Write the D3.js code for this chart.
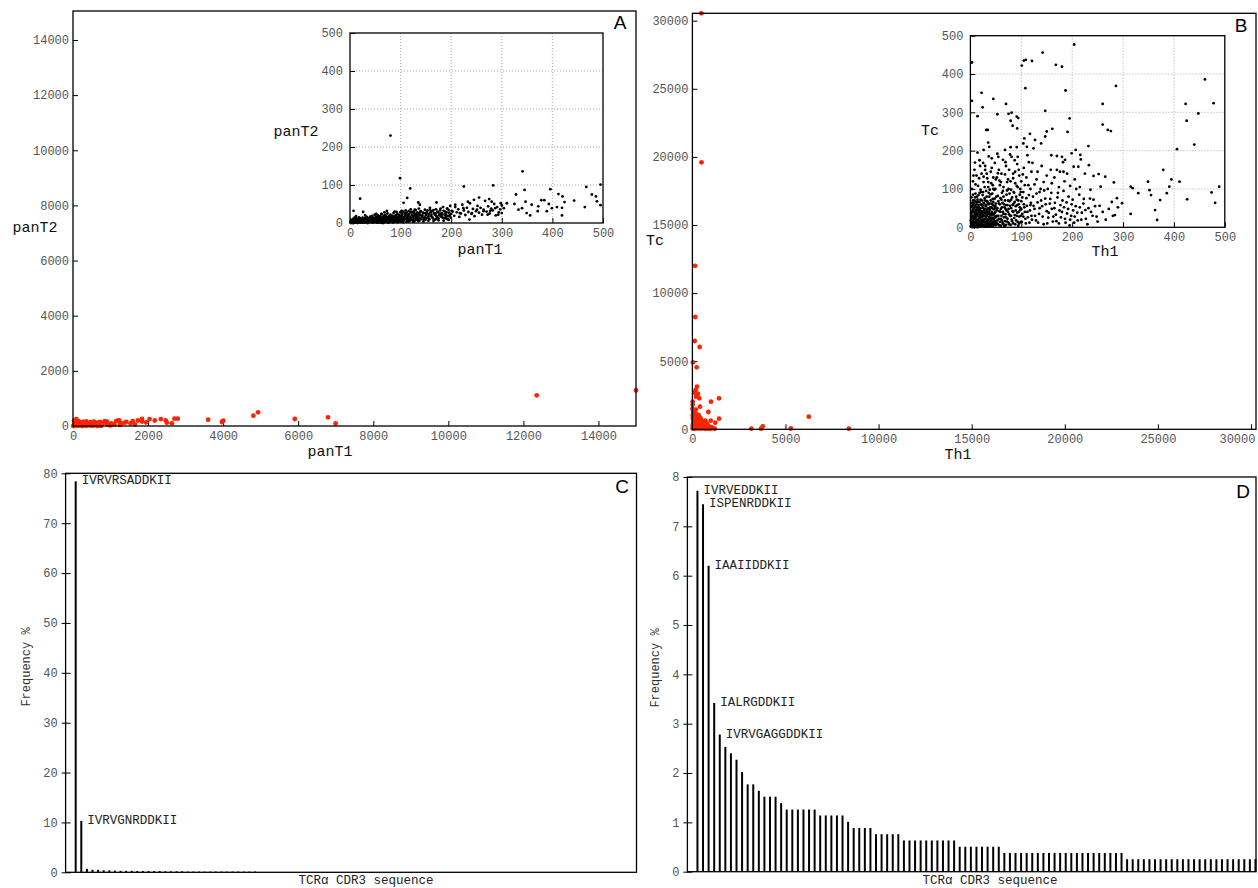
<!DOCTYPE html>
<html><head><meta charset="utf-8">
<script src="https://cdn.jsdelivr.net/npm/d3@7"></script>
<style>
body{margin:0;background:#fff;}
text{font-family:"Liberation Mono","DejaVu Sans Mono",monospace;}
</style></head><body>
<svg id="c" width="1258" height="888"></svg>
<script>
// ---------------- DATA ----------------
// Panel A main (panT1 vs panT2), red points
const aMainPts = [[12355,1112],[15000,1290],[4930,496],[4805,374],[5910,254],[6795,315],[6997,90],[4005,192],[3968,145],[3600,230],
[2792,266],[2703,266],[2635,97],[2500,120],[2470,200],[2340,250],[2180,200],[2040,250],[1840,260],[1840,160],[1730,200],[1590,180],
[1530,97],[1420,150],[1300,97],[1230,200],[1150,180],[1190,192],[1020,97],[910,145],[870,170],
[20,10],[40,60],[60,150],[80,220],[100,30],[120,90],[150,180],[170,20],[200,120],[230,60],[260,150],[290,30],[320,90],[350,170],
[380,40],[410,110],[440,60],[470,140],[500,20],[530,90],[560,160],[600,50],[640,120],[680,80],[720,150],[760,30],[800,110],
[850,180],[900,70],[950,40],[1000,20],[30,200],[90,250],[10,0],[50,5],[150,10],[250,0],[350,5],[450,15],[550,10],[650,0],[750,8],
[1100,60],[1250,40],[1380,120],[1650,60],[1950,130]];
// Panel A inset (0-500), black points
const aInsetPts = [[80,230],[99,118],[119,91],[20,64],[225,96],[283,99],[341,136],[345,87],[396,89],[467,95],[495,101],[478,75],[486,70],
[488,57],[495,47],[464,42],[443,59],[420,70],[412,76],[424,55],[419,40],[419,20],[409,42],[393,50],[384,60],[378,60],[372,44],[371,31],
[389,31],[399,39],[359,48],[356,20],[349,26],[347,56],[340,39],[333,35],[328,75],[325,50],[310,52],[304,39],[298,52],[300,26],[293,22],
[287,39],[280,56],[275,63],[277,32],[272,22],[264,31],[255,67],[245,61],[251,35],[241,26],[233,56],[236,9],[224,39],[217,26],[208,48],
[201,32],[192,38],[188,22],[181,26],[171,54],[168,22],[158,35],[148,26],[135,54],[138,48],[128,35],[122,29],[113,66],[106,53],[102,32],
[92,29],[73,32],[63,23],[26,29],[7,32],
[1,2],[2,5],[3,1],[4,8],[5,3],[6,11],[7,0],[8,6],[9,14],[10,2],[11,9],[12,4],[13,12],[14,7],[15,1],[16,10],[17,5],[18,15],[19,3],[20,8],
[21,12],[22,2],[23,6],[24,10],[25,14],[26,4],[27,9],[28,1],[29,13],[30,7],[31,11],[32,3],[33,16],[34,6],[35,9],[36,2],[37,13],[38,5],
[39,10],[40,17],[41,4],[42,12],[43,8],[44,19],[45,1],[46,14],[47,6],[48,10],[49,22],[50,3],[51,16],[52,9],[53,12],[54,5],[55,20],[56,8],
[57,14],[58,2],[59,18],[60,11],[61,6],[62,24],[63,9],[64,15],[65,3],[66,12],[67,19],[68,7],[69,13],[70,21],[71,4],[72,16],[73,10],
[74,25],[75,6],[76,14],[77,18],[78,2],[79,11],[80,22],[81,8],[82,15],[83,5],[84,19],[85,12],[86,26],[87,9],[88,16],[89,3],[90,20],
[91,13],[92,7],[93,24],[94,10],[95,17],[96,4],[97,21],[98,14],[99,28],[100,8],[101,18],[102,12],[103,25],[104,5],[105,30],[106,15],
[107,9],[108,22],[109,19],[110,33],[111,11],[112,27],[113,6],[114,20],[115,14],[116,31],[117,24],[118,9],[119,17],[120,36],[121,13],
[122,28],[123,21],[124,7],[125,16],[126,30],[127,25],[128,11],[129,19],[130,34],[131,14],[132,23],[133,28],[134,8],[135,18],[136,38],
[137,26],[138,12],[139,21],[140,31],[142,16],[144,27],[146,10],[148,35],[150,20],[152,29],[154,14],[156,24],[158,40],[160,18],[162,31],
[164,12],[166,26],[168,22],[170,36],[172,15],[174,28],[176,20],[178,33],[180,17],[182,25],[184,42],[186,13],[188,30],[190,22],[192,38],
[194,18],[196,27],[198,45],[200,24],[203,30],[206,19],[208,42],[211,28],[214,36],[216,16],[219,25],[222,48],[225,33],[228,21],[231,40],
[234,29],[237,52],[240,24],[243,37],[246,18],[249,31],[252,45],[255,27],[258,40],[261,22],[264,35],[267,58],[270,30],[273,44],[276,25],
[279,38],[282,33],[285,50],[288,20],[291,42],[294,28],[297,36],[300,46],
[5,0],[15,0],[25,1],[35,0],[45,2],[55,1],[65,0],[75,2],[85,1],[95,3],[105,2],[115,4],[125,3],[135,5],[145,4],[155,6],[165,5],[175,7],
[185,6],[195,8],[12,18],[30,20],[52,24],[68,28],[88,30],[110,24],[130,20],[150,12],[170,10],[190,12],
[2,0],[3,4],[5,7],[6,2],[8,3],[9,9],[11,1],[12,7],[14,4],[16,2],[17,8],[19,11],[20,1],[22,5],[23,9],[25,3],[27,6],[28,11],[30,2],[31,5],
[33,9],[34,1],[36,7],[37,4],[39,12],[41,7],[42,2],[43,14],[46,5],[47,10],[48,3],[50,13],[51,6],[53,1],[54,16],[56,4],[57,9],[59,6],
[60,15],[61,1],[63,12],[64,5],[66,8],[67,14],[68,2],[70,10],[71,17],[72,5],[74,13],[75,1],[77,8],[78,16],[80,4],[81,12],[83,18],[84,7],
[86,3],[87,14],[88,9],[90,5],[91,17],[92,11],[94,2],[95,13],[97,7],[98,18],[100,4],[102,20],[103,9],[104,15],[106,6],[108,12],[109,26],
[111,3],[113,16],[114,10],[116,22],[118,5],[119,13],[121,28],[122,8],[124,19],[126,11],[127,4],[129,24],[131,8],[133,16],[134,12],
[136,22],[137,6],[139,30],[141,10],[143,20],[145,26],[147,15],[149,8],[151,24],[153,33],[155,18],[157,10],[159,28],[161,22],[163,15],
[165,34],[167,8],[169,25],[171,18],[173,30],[175,12],[177,24],[179,38],[181,20],[183,14],[185,32],[187,22],[189,16],[191,28],[193,10],
[195,34],[197,20],[199,14]];
// Panel B main (Th1 vs Tc), red points
const bMainPts = [[478,30540],[490,19600],[145,12000],[156,8245],[123,6483],[390,6043],[32,4919],[230,4552],[247,3128],[177,2885],
[123,2687],[300,2592],[371,2276],[194,2393],[16,2026],[409,1659],[1000,2026],[1430,2276],[855,1270],[1430,778],[1231,485],[984,631],
[695,631],[6250,925],[3167,44],[3688,44],[3779,220],[5285,60],[8403,44],
[10,50],[20,300],[30,800],[40,1200],[50,150],[60,600],[80,1000],[100,40],[120,400],[140,900],[160,200],[180,700],[200,1100],[220,100],
[240,500],[260,300],[280,800],[300,60],[320,450],[350,200],[380,650],[400,100],[430,350],[460,50],[500,250],[540,120],[580,400],
[620,80],[660,200],[700,30],[750,150],[800,60],[850,250],[900,100],[950,30],[1000,180],[1100,80],[1200,40],[0,1500],[15,1800],
[70,1400],[110,1300],[190,1450],[260,950],[330,1050],[420,850],[480,700],[560,550],[640,480],[720,350],[780,420],[60,250],[150,550],
[20,1000],[90,700],[130,150],[210,380],[290,180],[360,420],[440,200],[520,80],[600,300],[680,120],[45,450],[170,1000],[250,650]];
// Panel B inset (0-500), black points
const bInsetPts = [[3,430],[3,330],[22,351],[24,313],[14,290],[45,335],[53,295],[70,322],[75,296],[81,299],[91,289],[79,278],[83,265],
[92,258],[94,285],[101,422],[105,435],[109,437],[121,434],[108,363],[142,456],[147,304],[168,424],[180,419],[187,357],[204,477],[195,284],
[191,249],[260,322],[260,268],[270,254],[276,251],[286,369],[31,254],[34,254],[35,221],[37,210],[26,202],[9,169],[19,160],[26,132],
[29,150],[42,180],[55,184],[54,141],[68,202],[79,209],[91,209],[81,184],[93,184],[104,219],[111,210],[124,206],[106,232],[117,244],
[127,228],[139,219],[147,237],[150,250],[161,257],[159,188],[170,186],[180,184],[186,176],[176,145],[183,145],[199,193],[207,202],
[216,189],[217,177],[232,212],[233,162],[203,158],[212,158],[242,134],[252,139],[265,132],[256,106],[282,117],[288,76],[298,63],
[280,30],[315,106],[319,102],[330,89],[349,119],[352,97],[355,84],[363,45],[367,19],[373,71],[379,150],[386,89],[391,106],[395,125],
[411,119],[406,204],[315,35],[423,322],[425,278],[440,216],[448,297],[461,386],[478,324],[426,73],[474,91],[481,64],[489,106],
[1,3],[1,18],[2,35],[2,52],[3,8],[3,27],[4,44],[4,62],[5,1],[5,14],[6,30],[6,48],[7,5],[7,22],[8,38],[8,70],[9,11],[9,56],[10,2],
[10,25],[11,42],[11,16],[12,60],[12,7],[13,33],[13,80],[14,20],[14,48],[15,4],[15,66],[16,28],[16,12],[17,52],[17,38],[18,2],[18,90],
[19,24],[19,45],[20,9],[20,72],[21,34],[21,17],[22,58],[22,3],[23,40],[23,26],[24,84],[24,12],[25,50],[25,31],[26,6],[26,64],[27,20],
[27,44],[28,14],[28,76],[29,36],[29,2],[30,55],[30,23],[31,10],[31,95],[32,42],[32,30],[33,68],[33,5],[34,18],[34,50],[35,38],[35,105],
[36,12],[36,60],[37,27],[37,80],[38,3],[38,46],[39,34],[39,20],[40,70],[40,8],[41,52],[41,115],[42,25],[42,40],[43,14],[43,88],[44,58],
[44,4],[45,32],[45,66],[46,20],[46,47],[47,98],[47,10],[48,38],[48,75],[49,28],[49,55],[50,6],[50,125],
[52,44],[53,18],[54,82],[55,30],[56,62],[57,5],[58,110],[59,40],[60,22],[61,72],[62,52],[63,12],[64,95],[65,35],[66,60],[67,3],[68,138],
[69,48],[70,26],[71,85],[72,15],[73,58],[74,40],[75,100],[76,8],[77,68],[78,30],[79,120],[80,50],[81,20],[82,78],[83,42],[84,10],[85,62],
[86,90],[87,32],[88,145],[89,55],[90,18],[91,72],[92,38],[93,105],[94,4],[95,60],[96,28],[97,85],[98,45],[99,14],[100,68],[102,35],
[104,92],[106,52],[108,22],[110,76],[112,40],[114,110],[116,12],[118,58],[120,30],
[123,80],[126,48],[129,18],[132,65],[135,35],[138,100],[141,55],[144,8],[147,75],[150,42],[153,25],[156,62],[159,90],[162,15],[165,50],
[168,33],[171,78],[174,10],[177,58],[180,40],[183,95],[186,22],[189,65],[192,48],[195,5],[198,30],[201,72],[204,12],[207,55],[210,38],
[214,85],[218,20],[222,62],[226,45],[230,8],[235,75],[240,30],[245,55],[250,15],
[5,120],[8,150],[12,135],[15,108],[18,175],[22,140],[26,118],[29,160],[33,128],[36,185],[40,145],[44,110],[48,168],[52,130],[56,150],
[60,118],[64,176],[70,160],[74,125],[78,190],[84,140],[88,115],[92,165],[96,135],[100,120],[105,155],[110,130],[115,170],[120,145],
[130,125],[140,160],[150,135],[160,115],[170,150],[185,120],
[2,10],[2,22],[2,64],[2,78],[3,40],[3,55],[4,2],[4,16],[4,30],[5,70],[5,85],[6,6],[6,20],[6,58],[7,12],[7,40],[7,64],[8,0],[8,26],[8,52],
[9,33],[9,78],[10,14],[10,46],[10,88],[11,5],[11,28],[11,66],[12,20],[12,38],[13,10],[13,52],[14,0],[14,34],[14,72],[15,18],[15,44],
[16,6],[16,58],[16,84],[17,24],[18,14],[18,40],[18,66],[19,6],[19,32],[20,20],[20,50],[20,98],[21,8],[21,60],[22,28],[22,42],[23,14],
[23,70],[24,4],[24,34],[24,56],[25,20],[25,92],[26,40],[26,14],[27,30],[27,62],[28,4],[28,48],[29,22],[29,70],[30,10],[30,38],[31,58],
[31,28],[32,16],[32,80],[33,46],[33,2],[34,34],[34,64],[35,22],[35,12],[36,48],[36,90],[37,8],[37,40],[38,62],[38,24],[39,14],[39,52],
[40,32],[40,86],[41,20],[41,4],[42,62],[42,10],[43,36],[43,50],[44,24],[44,74],[45,14],[45,100],[46,34],[46,6],[47,56],[47,24],[48,16],
[48,50],[49,6],[49,40],[50,62],[50,26],[51,12],[51,80],[52,30],[53,50],[54,8],[55,68],[56,22],[57,42],[58,14],[58,60],[59,76],[60,4],
[60,48],[61,30],[62,90],[62,18],[63,64],[64,40],[65,8],[65,80],[66,26],[67,52],[68,16],[68,70],[69,34],[70,6],[70,58],[71,44],[72,96],
[73,22],[74,70],[75,12],[75,48],[76,34],[77,88],[78,56],[79,6],[80,30],[80,72],[82,16],[83,58],[84,40],[85,92],[86,24],[87,66],[88,8],
[89,44],[90,80],[91,30],[92,58],[93,14],[94,70],[95,40],[96,10],[97,52],[98,100],[99,30],[100,48],[101,14],[102,78],[104,28],[105,60],
[107,40],[109,10],[111,56],[113,26],[115,84],[117,44],[119,64],[121,20],[124,56],[127,30],[130,88],[133,12],[136,50],[139,70],[142,28],
[145,96],[148,60],[151,10],[154,38],[157,74],[160,48],[163,28],[166,64],[169,16],[172,90],[175,44],[178,26],[181,70],[184,52],[187,12],
[190,36],[193,80],[196,20],[199,60],[202,44],[205,28],[208,100],[211,18],[215,52],[219,38],[223,74],[227,22],[232,50],[237,40],[242,72],
[248,28],[254,56],[260,40],[266,20],[272,48],[278,66],[284,32],[290,52],
[3,100],[6,135],[10,112],[14,195],[17,128],[21,92],[25,168],[28,105],[32,140],[35,118],[38,98],[42,155],[45,130],[49,100],[53,192],
[57,122],[61,140],[65,105],[69,170],[72,118],[76,150],[80,98],[84,128],[87,175],[91,108],[95,150],[99,92],[103,138],[107,110],[112,188],
[118,100],[122,168],[126,112],[132,145],[136,92],[144,118],[152,100],[158,150],[165,130],[174,105],[182,170],[190,140],[196,108],
[205,125],[215,105],[225,140],[236,98]];
// Panel C / D bar values (frequency %)
const cBars = [78.4,10.3,0.7,0.5,0.5,0.4,0.4,0.35,0.3,0.3,0.3,0.25,0.25,0.25,0.25,0.25,0.2,0.2,0.2,0.2,0.15,0.15,0.15,0.15,0.15,0.15,0.15,0.15,0.15,0.15,0.15,0.15,0.15];
const dBars = [7.72,7.45,6.2,3.42,2.78,2.53,2.4,2.27,2.02,1.77,1.77,1.64,1.52,1.52,1.52,1.39,
1.26,1.26,1.26,1.26,1.26,1.26,1.14,1.14,1.14,1.14,1.14,1.01,0.886,0.886,0.886,0.886,0.76,0.76,0.76,0.76,0.76,
0.633,0.633,0.633,0.633,0.633,0.633,0.633,0.633,0.633,0.633,0.506,0.506,0.506,0.506,0.506,0.506,0.506,0.506,
0.38,0.38,0.38,0.38,0.38,0.38,0.38,0.38,0.38,0.38,0.38,0.38,0.38,0.38,0.38,0.38,0.38,0.38,0.38,0.38,0.38,0.38,
0.253,0.253,0.253,0.253,0.253,0.253,0.253,0.253,0.253,0.253,0.253,0.253,0.253,0.253,0.253,0.253,0.253,0.253,0.253,0.253,0.253,0.253,0.253,0.253];
const cLabels = [[1,"IVRVRSADDKII"],[2,"IVRVGNRDDKII"]];
const dLabels = [[1,"IVRVEDDKII"],[2,"ISPENRDDKII"],[3,"IAAIIDDKII"],[4,"IALRGDDKII"],[5,"IVRVGAGGDDKII"]];
const mainATicks = [0,2000,4000,6000,8000,10000,12000,14000];
const mainBTicks = [0,5000,10000,15000,20000,25000,30000];
const insetTicks = [0,100,200,300,400,500];
const cTicks = [0,10,20,30,40,50,60,70,80];
const dTicks = [0,1,2,3,4,5,6,7,8];

// ---------------- DRAW ----------------
const svg = d3.select("#c");
svg.append("rect").attr("width",1258).attr("height",888).attr("fill","#fff");
const RED = "#ff2400";
const TICKC = "#555";

function styleAxis(g){
  g.select(".domain").remove();
  g.selectAll(".tick line").attr("stroke","#000").attr("stroke-width",1);
  g.selectAll(".tick text").attr("fill",TICKC).style("font-size","12px")
   .style("font-family","'Liberation Mono',monospace");
}

function scatter(o){
  const x = d3.scaleLinear().domain(o.xd).range([o.x0,o.x1]);
  const y = d3.scaleLinear().domain(o.yd).range([o.y1,o.y0]);
  const g = svg.append("g");
  if(o.inset){
    g.append("rect").attr("x",o.x0).attr("y",o.y0).attr("width",o.x1-o.x0).attr("height",o.y1-o.y0).attr("fill","#fff");
    const gl = g.append("g");
    o.ticks.filter(t=>t>o.xd[0]&&t<o.xd[1]).forEach(t=>{
      gl.append("line").attr("x1",x(t)).attr("x2",x(t)).attr("y1",o.y0).attr("y2",o.y1);
    });
    o.ticks.filter(t=>t>o.yd[0]&&t<o.yd[1]).forEach(t=>{
      gl.append("line").attr("y1",y(t)).attr("y2",y(t)).attr("x1",o.x0).attr("x2",o.x1);
    });
    gl.selectAll("line").attr("stroke","#aaa").attr("stroke-width",1).attr("stroke-dasharray","1,2");
  }
  const gx = g.append("g").attr("transform",`translate(0,${o.y1})`)
    .call(d3.axisBottom(x).tickValues(o.xticks||o.ticks).tickSize(-5).tickPadding(5).tickFormat(d3.format("d")));
  styleAxis(gx);
  const gy = g.append("g").attr("transform",`translate(${o.x0},0)`)
    .call(d3.axisLeft(y).tickValues(o.yticks||o.ticks).tickSize(-5).tickPadding(o.ypad||4).tickFormat(d3.format("d")));
  styleAxis(gy);
  if(o.lastRight){
    gx.selectAll(".tick text").filter(d=>d===o.lastRight).attr("text-anchor","end").attr("dx",4);
  }
  const clipId = "clip"+Math.round(o.x0)+"_"+Math.round(o.y0);
  svg.append("clipPath").attr("id",clipId).append("rect")
    .attr("x",o.x0-3).attr("y",o.y0-3).attr("width",o.x1-o.x0+6).attr("height",o.y1-o.y0+6);
  g.append("g").attr("clip-path",`url(#${clipId})`).selectAll("circle").data(o.pts).join("circle")
    .attr("cx",d=>x(d[0])).attr("cy",d=>y(d[1])).attr("r",o.r).attr("fill",o.color);
  g.append("rect").attr("x",o.x0).attr("y",o.y0).attr("width",o.x1-o.x0).attr("height",o.y1-o.y0)
    .attr("fill","none").attr("stroke","#000").attr("stroke-width",1.3);
  g.append("text").attr("x",o.xl[0]).attr("y",o.xl[1]).attr("text-anchor","middle").attr("dominant-baseline","central")
    .style("font-size","15px").attr("fill","#111").text(o.xlab);
  g.append("text").attr("x",o.yl[0]).attr("y",o.yl[1]).attr("text-anchor","middle").attr("dominant-baseline","central")
    .style("font-size","15px").attr("fill","#111").text(o.ylab);
  return {x,y};
}

// Panel A
scatter({x0:73,x1:636,y0:11,y1:426,xd:[0,15000],yd:[0,15050],xticks:mainATicks,yticks:mainATicks,
  pts:aMainPts,r:2.4,color:RED,xlab:"panT1",ylab:"panT2",xl:[330,452],yl:[35,228]});
scatter({x0:350,x1:603,y0:33,y1:223,xd:[0,500],yd:[0,500],ticks:insetTicks,inset:true,ypad:7,
  pts:aInsetPts,r:1.4,color:"#000",xlab:"panT1",ylab:"panT2",xl:[480,250],yl:[296,132]});
// Panel B
scatter({x0:692.4,x1:1256,y0:13.3,y1:429.3,xd:[0,30270],yd:[0,30543],xticks:mainBTicks,yticks:mainBTicks,lastRight:30000,
  pts:bMainPts,r:2.4,color:RED,xlab:"Th1",ylab:"Tc",xl:[958,455],yl:[655,241]});
scatter({x0:970.4,x1:1224.8,y0:35.7,y1:227.3,xd:[0,500],yd:[0,500],ticks:insetTicks,inset:true,ypad:7,
  pts:bInsetPts,r:1.4,color:"#000",xlab:"Th1",ylab:"Tc",xl:[1105,252],yl:[930,131]});

// Bar panels
function bars(o){
  const x = d3.scaleLinear().domain([-0.8,101.1]).range([o.x0,o.x1]);
  const y = d3.scaleLinear().domain(o.yd).range([o.y1,o.y0]);
  const g = svg.append("g");
  const gy = g.append("g").attr("transform",`translate(${o.x0},0)`)
    .call(d3.axisLeft(y).tickValues(o.ticks).tickSize(5).tickPadding(3).tickFormat(d3.format("d")));
  styleAxis(gy);
  gy.selectAll(".tick line").attr("x2",5).attr("x1",-4);
  g.selectAll("line.bar").data(o.vals).join("line").attr("class","bar")
    .attr("x1",(d,i)=>x(i+1)).attr("x2",(d,i)=>x(i+1)).attr("y1",y(0)).attr("y2",d=>y(d))
    .attr("stroke","#000").attr("stroke-width",2);
  g.append("rect").attr("x",o.x0).attr("y",o.y0).attr("width",o.x1-o.x0).attr("height",o.y1-o.y0)
    .attr("fill","none").attr("stroke","#000").attr("stroke-width",1.3);
  o.labels.forEach(([i,t])=>{
    g.append("text").attr("x",x(i)+6).attr("y",y(o.vals[i-1])).attr("dominant-baseline","central")
      .style("font-size","12.5px").attr("fill","#222").text(t);
  });
  g.append("text").attr("transform",`translate(${o.yl[0]},${o.yl[1]}) rotate(-90)`).attr("text-anchor","middle")
    .attr("dominant-baseline","central").style("font-size","12px").attr("fill","#333").text("Frequency %");
  g.append("text").attr("x",o.xl[0]).attr("y",o.xl[1]).attr("text-anchor","middle").attr("dominant-baseline","central")
    .style("font-size","12.5px").attr("fill","#222").text("TCRα CDR3 sequence");
}
bars({x0:65.6,x1:636.5,y0:473.3,y1:872.3,yd:[0,80],ticks:cTicks,vals:cBars,labels:cLabels,yl:[27,667],xl:[366,880.5]});
bars({x0:687.4,x1:1256,y0:477,y1:871.7,yd:[0,8],ticks:dTicks,vals:dBars,labels:dLabels,yl:[656,668],xl:[990,880.5]});

// Panel letters
[["A",620,22],["B",1241,25],["C",622,486],["D",1243,491]].forEach(([t,x,y])=>{
  svg.append("text").attr("x",x).attr("y",y).attr("text-anchor","middle").attr("dominant-baseline","central")
    .style("font-family","'Liberation Sans',Arial,sans-serif").style("font-size","19px").attr("fill","#000").text(t);
});
</script></body></html>
